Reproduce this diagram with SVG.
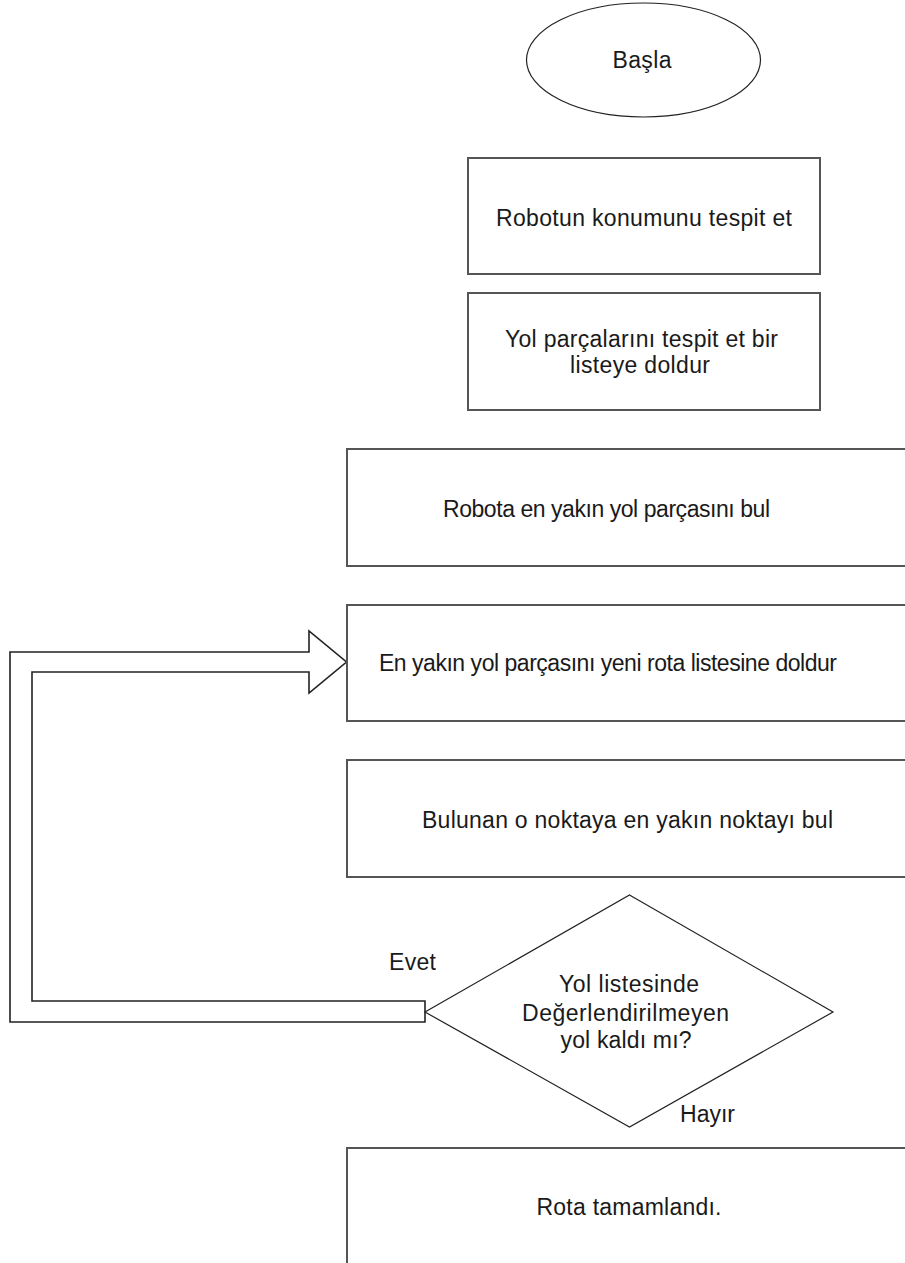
<svg xmlns="http://www.w3.org/2000/svg" width="905" height="1263" viewBox="0 0 905 1263">
<style>
.box{fill:#fff;stroke:#555;stroke-width:2}
.thin{fill:#fff;stroke:#222;stroke-width:1.2}
.t{font-family:"Liberation Sans",Arial,sans-serif;font-size:23px;fill:#1a1a1a;text-anchor:middle}
.lbl{font-family:"Liberation Sans",Arial,sans-serif;font-size:23px;fill:#1a1a1a}
</style>
<rect width="905" height="1263" fill="#fff"/>
<g id="connectors">
<path id="loop-arrow" d="M425,1001 L32,1001 L32,672 L309,672 L309,693 L346.5,662 L309,631 L309,652 L10,652 L10,1022 L425,1022 Z" fill="#fff" stroke="#222" stroke-width="1.6" stroke-linejoin="miter"/>
<text class="lbl" x="389" y="970" textLength="47" lengthAdjust="spacing">Evet</text>
<text class="lbl" x="680" y="1122" textLength="55" lengthAdjust="spacing">Hayır</text>
</g>
<g id="start">
<ellipse class="thin" cx="643.5" cy="60" rx="117" ry="57"/>
<text class="t" x="642" y="68" textLength="59" lengthAdjust="spacing">Başla</text>
</g>
<g id="n1">
<rect class="box" x="468" y="158" width="352" height="116"/>
<text class="t" x="644" y="226" textLength="296" lengthAdjust="spacing">Robotun konumunu tespit et</text>
</g>
<g id="n2">
<rect class="box" x="468" y="293" width="352" height="117"/>
<text class="t" x="641.5" y="347" textLength="273" lengthAdjust="spacing">Yol parçalarını tespit et bir</text>
<text class="t" x="640" y="373" textLength="140" lengthAdjust="spacing">listeye doldur</text>
</g>
<g id="n3">
<rect class="box" x="347" y="449" width="600" height="117"/>
<text class="t" x="606.5" y="517" textLength="327" lengthAdjust="spacing">Robota en yakın yol parçasını bul</text>
</g>
<g id="n4">
<rect class="box" x="347" y="605" width="600" height="116"/>
<text class="t" x="608" y="671" textLength="458" lengthAdjust="spacing">En yakın yol parçasını yeni rota listesine doldur</text>
</g>
<g id="n5">
<rect class="box" x="347" y="760" width="600" height="117"/>
<text class="t" x="627.5" y="828" textLength="411" lengthAdjust="spacing">Bulunan o noktaya en yakın noktayı bul</text>
</g>
<g id="decision">
<polygon class="thin" points="629.5,895 833,1012 629.5,1127 425,1012"/>
<text class="t" x="629" y="992" textLength="140" lengthAdjust="spacing">Yol listesinde</text>
<text class="t" x="625.5" y="1021" textLength="207" lengthAdjust="spacing">Değerlendirilmeyen</text>
<text class="t" x="626" y="1048" textLength="131" lengthAdjust="spacing">yol kaldı mı?</text>
</g>
<g id="end">
<rect class="box" x="347" y="1148" width="600" height="130"/>
<text class="t" x="629" y="1215" textLength="185" lengthAdjust="spacing">Rota tamamlandı.</text>
</g>
</svg>
